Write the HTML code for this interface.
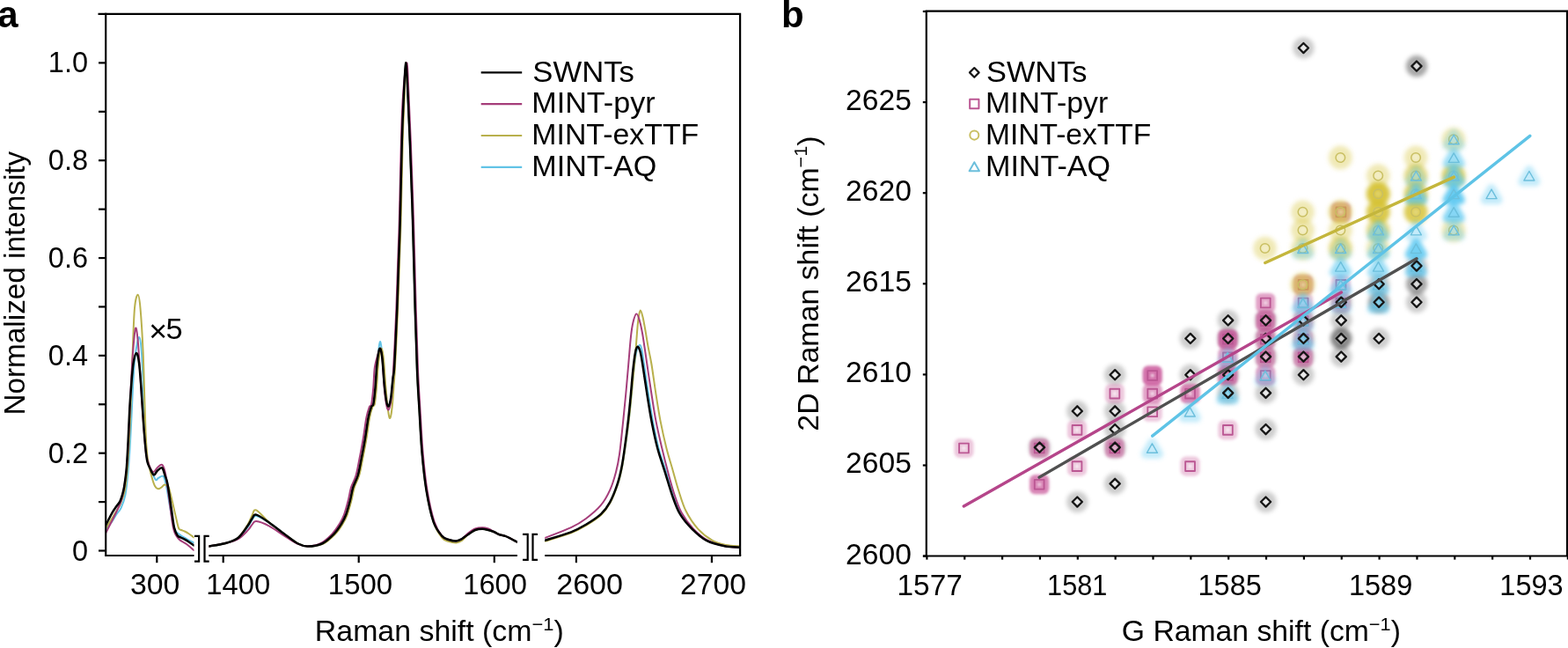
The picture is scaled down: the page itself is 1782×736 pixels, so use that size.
<!DOCTYPE html><html><head><meta charset="utf-8"><title>Raman figure</title>
<style>html,body{margin:0;padding:0;background:#fff;overflow:hidden;}svg{display:block;}</style></head><body>
<svg width="1782" height="736" viewBox="0 0 1782 736" font-family="'Liberation Sans', sans-serif">
<rect x="0" y="0" width="1782" height="736" fill="#fff"/>
<defs>
<clipPath id="c1"><rect x="121" y="17" width="99.5" height="614"/></clipPath>
<clipPath id="c2"><rect x="237.4" y="17" width="350.5" height="614"/></clipPath>
<clipPath id="c3"><rect x="619.2" y="17" width="221" height="614"/></clipPath>
<filter id="hS" x="-30%" y="-30%" width="160%" height="160%"><feGaussianBlur stdDeviation="2.6"/></filter><filter id="hP" x="-30%" y="-30%" width="160%" height="160%"><feGaussianBlur stdDeviation="1.7"/></filter><filter id="hE" x="-30%" y="-30%" width="160%" height="160%"><feGaussianBlur stdDeviation="2.5"/></filter><filter id="hA" x="-30%" y="-30%" width="160%" height="160%"><feGaussianBlur stdDeviation="2.4"/></filter>
<filter id="sb" x="-10%" y="-10%" width="120%" height="120%"><feGaussianBlur stdDeviation="0.35"/></filter>
</defs>
<text x="-2.80" y="31.00" font-size="42.00" font-weight="bold">a</text>
<text x="888.00" y="30.50" font-size="42.00" font-weight="bold">b</text>
<g clip-path="url(#c1)" fill="none" stroke-linejoin="round" stroke-linecap="round">
<path d="M120.20,601.00 C121.47,599.43 125.75,594.43 127.80,591.60 C129.85,588.77 130.87,586.45 132.50,584.00 C134.13,581.55 135.95,580.53 137.60,576.90 C139.25,573.27 141.18,567.90 142.40,562.20 C143.62,556.50 144.08,550.85 144.90,542.70 C145.72,534.55 146.57,524.30 147.30,513.30 C148.03,502.30 148.68,488.92 149.30,476.70 C149.92,464.48 150.38,451.12 151.00,440.00 C151.62,428.88 152.25,418.00 153.00,410.00 C153.75,402.00 154.62,396.50 155.50,392.00 C156.38,387.50 157.47,382.50 158.30,383.00 C159.13,383.50 159.80,387.17 160.50,395.00 C161.20,402.83 161.87,415.83 162.50,430.00 C163.13,444.17 163.72,466.67 164.30,480.00 C164.88,493.33 165.22,502.00 166.00,510.00 C166.78,518.00 167.83,523.50 169.00,528.00 C170.17,532.50 171.67,534.17 173.00,537.00 C174.33,539.83 175.83,544.00 177.00,545.00 C178.17,546.00 178.57,543.67 180.00,543.00 C181.43,542.33 184.10,539.50 185.60,541.00 C187.10,542.50 187.77,546.33 189.00,552.00 C190.23,557.67 191.50,567.00 193.00,575.00 C194.50,583.00 196.17,594.67 198.00,600.00 C199.83,605.33 201.67,605.00 204.00,607.00 C206.33,609.00 209.28,610.43 212.00,612.00 C214.72,613.57 218.92,615.67 220.30,616.40" stroke="#62c3e6" stroke-width="2.0"/>
<path d="M120.20,600.00 C121.47,598.00 125.75,591.33 127.80,588.00 C129.85,584.67 130.97,582.67 132.50,580.00 C134.03,577.33 135.45,575.83 137.00,572.00 C138.55,568.17 140.58,562.83 141.80,557.00 C143.02,551.17 143.53,545.33 144.30,537.00 C145.07,528.67 145.75,518.17 146.40,507.00 C147.05,495.83 147.48,487.83 148.20,470.00 C148.92,452.17 149.90,420.00 150.70,400.00 C151.50,380.00 152.00,360.87 153.00,350.00 C154.00,339.13 155.62,334.80 156.70,334.80 C157.78,334.80 158.52,339.13 159.50,350.00 C160.48,360.87 161.77,381.67 162.60,400.00 C163.43,418.33 163.93,443.33 164.50,460.00 C165.07,476.67 165.42,489.67 166.00,500.00 C166.58,510.33 167.00,515.33 168.00,522.00 C169.00,528.67 170.67,535.00 172.00,540.00 C173.33,545.00 174.70,549.45 176.00,552.00 C177.30,554.55 178.55,555.05 179.80,555.30 C181.05,555.55 182.35,554.28 183.50,553.50 C184.65,552.72 185.70,550.93 186.70,550.60 C187.70,550.27 188.62,550.87 189.50,551.50 C190.38,552.13 190.85,550.93 192.00,554.40 C193.15,557.87 194.92,566.08 196.40,572.30 C197.88,578.52 199.77,587.05 200.90,591.70 C202.03,596.35 202.35,598.48 203.20,600.20 C204.05,601.92 204.88,601.45 206.00,602.00 C207.12,602.55 208.40,602.75 209.90,603.50 C211.40,604.25 213.25,605.35 215.00,606.50 C216.75,607.65 219.50,609.75 220.40,610.40" stroke="#b8b04c" stroke-width="2.0"/>
<path d="M120.20,605.40 C121.17,603.50 124.03,597.90 126.00,594.00 C127.97,590.10 130.00,586.33 132.00,582.00 C134.00,577.67 136.33,573.67 138.00,568.00 C139.67,562.33 140.92,555.17 142.00,548.00 C143.08,540.83 143.75,534.67 144.50,525.00 C145.25,515.33 145.83,503.33 146.50,490.00 C147.17,476.67 147.80,459.17 148.50,445.00 C149.20,430.83 149.80,416.95 150.70,405.00 C151.60,393.05 152.93,376.63 153.90,373.30 C154.87,369.97 155.65,377.22 156.50,385.00 C157.35,392.78 158.17,407.50 159.00,420.00 C159.83,432.50 160.72,448.33 161.50,460.00 C162.28,471.67 162.95,480.83 163.70,490.00 C164.45,499.17 165.12,508.83 166.00,515.00 C166.88,521.17 167.67,523.50 169.00,527.00 C170.33,530.50 172.33,535.33 174.00,536.00 C175.67,536.67 177.30,532.35 179.00,531.00 C180.70,529.65 182.70,526.73 184.20,527.90 C185.70,529.07 186.70,531.82 188.00,538.00 C189.30,544.18 190.50,554.67 192.00,565.00 C193.50,575.33 195.17,592.17 197.00,600.00 C198.83,607.83 200.50,609.00 203.00,612.00 C205.50,615.00 209.12,615.83 212.00,618.00 C214.88,620.17 218.92,623.83 220.30,625.00" stroke="#a53d7a" stroke-width="2.0"/>
<path d="M120.20,596.50 C120.83,595.25 122.73,591.45 124.00,589.00 C125.27,586.55 126.47,584.05 127.80,581.80 C129.13,579.55 130.58,577.53 132.00,575.50 C133.42,573.47 135.13,571.85 136.30,569.60 C137.47,567.35 138.18,564.85 139.00,562.00 C139.82,559.15 140.42,557.35 141.20,552.50 C141.98,547.65 142.97,541.47 143.70,532.90 C144.43,524.33 145.00,512.52 145.60,501.10 C146.20,489.68 146.73,474.58 147.30,464.40 C147.87,454.22 148.30,448.57 149.00,440.00 C149.70,431.43 150.50,419.52 151.50,413.00 C152.50,406.48 153.92,401.07 155.00,400.90 C156.08,400.73 157.10,405.48 158.00,412.00 C158.90,418.52 159.57,428.67 160.40,440.00 C161.23,451.33 162.15,468.33 163.00,480.00 C163.85,491.67 164.75,502.53 165.50,510.00 C166.25,517.47 166.58,520.97 167.50,524.80 C168.42,528.63 169.77,530.57 171.00,533.00 C172.23,535.43 173.57,539.15 174.90,539.40 C176.23,539.65 177.45,535.83 179.00,534.50 C180.55,533.17 182.78,530.48 184.20,531.40 C185.62,532.32 186.45,536.92 187.50,540.00 C188.55,543.08 189.25,543.27 190.50,549.90 C191.75,556.53 193.75,571.58 195.00,579.80 C196.25,588.02 196.88,594.47 198.00,599.20 C199.12,603.93 200.45,606.32 201.70,608.20 C202.95,610.08 204.13,609.75 205.50,610.50 C206.87,611.25 208.32,611.82 209.90,612.70 C211.48,613.58 213.25,614.68 215.00,615.80 C216.75,616.92 219.50,618.80 220.40,619.40" stroke="#000000" stroke-width="2.5"/>
</g>
<g clip-path="url(#c2)" fill="none" stroke-linejoin="round" stroke-linecap="round">
<path d="M237.40,620.50 C240.70,619.88 251.63,618.43 257.20,616.80 C262.77,615.17 266.73,613.73 270.80,610.70 C274.87,607.67 278.98,601.97 281.60,598.60 C284.22,595.23 284.90,592.58 286.50,590.50 C288.10,588.42 287.93,585.57 291.20,586.10 C294.47,586.63 300.45,590.05 306.10,593.70 C311.75,597.35 319.67,604.03 325.10,608.00 C330.53,611.97 334.62,615.42 338.70,617.50 C342.78,619.58 344.90,620.50 349.60,620.50 C354.30,620.50 361.75,619.82 366.90,617.50 C372.05,615.18 376.82,610.35 380.50,606.60 C384.18,602.85 386.73,598.63 389.00,595.00 C391.27,591.37 392.43,589.30 394.10,584.80 C395.77,580.30 397.65,573.20 399.00,568.00 C400.35,562.80 400.75,558.27 402.20,553.60 C403.65,548.93 406.15,545.27 407.70,540.00 C409.25,534.73 410.15,528.83 411.50,522.00 C412.85,515.17 414.45,506.95 415.80,499.00 C417.15,491.05 418.40,480.47 419.60,474.30 C420.80,468.13 422.05,464.55 423.00,462.00 C423.95,459.45 424.55,462.67 425.30,459.00 C426.05,455.33 426.87,447.00 427.50,440.00 C428.13,433.00 428.63,424.06 429.10,417.00 C429.57,409.94 429.77,402.40 430.30,397.61 C430.83,392.83 431.60,387.04 432.30,388.28 C433.00,389.52 433.77,397.07 434.50,405.06 C435.23,413.04 435.95,427.88 436.70,436.20 C437.45,444.52 438.27,450.78 439.00,455.00 C439.73,459.22 440.43,461.00 441.10,461.50 C441.77,462.00 442.43,459.92 443.00,458.00 C443.57,456.08 443.92,454.67 444.50,450.00 C445.08,445.33 445.93,435.00 446.50,430.00 C447.07,425.00 447.40,426.67 447.90,420.00 C448.40,413.33 448.93,401.67 449.50,390.00 C450.07,378.33 450.72,365.00 451.30,350.00 C451.88,335.00 452.43,316.67 453.00,300.00 C453.57,283.33 454.07,273.33 454.70,250.00 C455.33,226.67 456.12,183.33 456.80,160.00 C457.48,136.67 458.07,124.77 458.80,110.00 C459.53,95.23 460.43,72.23 461.20,71.40 C461.97,70.57 462.63,90.23 463.40,105.00 C464.17,119.77 464.87,135.83 465.80,160.00 C466.73,184.17 468.02,218.33 469.00,250.00 C469.98,281.67 470.87,321.67 471.70,350.00 C472.53,378.33 473.20,400.83 474.00,420.00 C474.80,439.17 475.57,449.30 476.50,465.00 C477.43,480.70 478.27,498.92 479.60,514.20 C480.93,529.48 482.33,543.63 484.50,556.70 C486.67,569.77 489.62,583.90 492.60,592.60 C495.58,601.30 499.50,605.50 502.40,608.90 C505.30,612.30 507.28,612.08 510.00,613.00 C512.72,613.92 516.20,614.57 518.70,614.40 C521.20,614.23 522.82,613.20 525.00,612.00 C527.18,610.80 529.30,608.87 531.80,607.20 C534.30,605.53 537.28,603.08 540.00,602.00 C542.72,600.92 545.60,600.70 548.10,600.70 C550.60,600.70 552.82,601.45 555.00,602.00 C557.18,602.55 559.20,603.17 561.20,604.00 C563.20,604.83 564.83,606.18 567.00,607.00 C569.17,607.82 572.03,608.15 574.20,608.90 C576.37,609.65 577.82,610.42 580.00,611.50 C582.18,612.58 586.08,614.75 587.30,615.40" stroke="#62c3e6" stroke-width="2.0"/>
<path d="M237.40,620.50 C240.70,619.88 251.63,618.43 257.20,616.80 C262.77,615.17 266.73,614.20 270.80,610.70 C274.87,607.20 278.98,600.04 281.60,595.79 C284.22,591.54 284.90,587.94 286.50,585.21 C288.10,582.48 287.93,578.01 291.20,579.40 C294.47,580.79 300.45,588.79 306.10,593.55 C311.75,598.32 319.67,604.01 325.10,608.00 C330.53,611.99 334.62,615.42 338.70,617.50 C342.78,619.58 344.82,620.50 349.60,620.50 C354.38,620.50 362.17,619.82 367.40,617.50 C372.63,615.18 377.32,610.35 381.00,606.60 C384.68,602.85 387.23,598.63 389.50,595.00 C391.77,591.37 392.93,589.30 394.60,584.80 C396.27,580.30 398.15,573.20 399.50,568.00 C400.85,562.80 401.25,558.27 402.70,553.60 C404.15,548.93 406.65,545.27 408.20,540.00 C409.75,534.73 410.65,528.83 412.00,522.00 C413.35,515.17 414.95,506.95 416.30,499.00 C417.65,491.05 418.90,480.47 420.10,474.30 C421.30,468.13 422.55,464.55 423.50,462.00 C424.45,459.45 425.05,462.67 425.80,459.00 C426.55,455.33 427.37,447.00 428.00,440.00 C428.63,433.00 428.97,423.67 429.60,417.00 C430.23,410.33 431.10,403.47 431.80,400.00 C432.50,396.53 433.10,394.87 433.80,396.20 C434.50,397.53 435.27,401.10 436.00,408.00 C436.73,414.90 437.45,428.66 438.20,437.61 C438.95,446.57 439.77,455.55 440.50,461.72 C441.23,467.88 441.93,473.07 442.60,474.60 C443.27,476.14 443.93,473.60 444.50,470.90 C445.07,468.20 445.42,464.78 446.00,458.41 C446.58,452.03 447.53,439.08 448.00,432.68 C448.47,426.28 448.40,427.11 448.80,420.00 C449.20,412.89 449.83,401.67 450.40,390.00 C450.97,378.33 451.62,365.00 452.20,350.00 C452.78,335.00 453.33,316.67 453.90,300.00 C454.47,283.33 454.97,273.33 455.60,250.00 C456.23,226.67 457.02,183.33 457.70,160.00 C458.38,136.67 459.12,124.77 459.70,110.00 C460.28,95.23 460.58,72.23 461.20,71.40 C461.82,70.57 462.63,90.23 463.40,105.00 C464.17,119.77 464.87,135.83 465.80,160.00 C466.73,184.17 468.02,218.33 469.00,250.00 C469.98,281.67 470.87,321.67 471.70,350.00 C472.53,378.33 473.20,400.83 474.00,420.00 C474.80,439.17 475.57,449.30 476.50,465.00 C477.43,480.70 478.27,498.92 479.60,514.20 C480.93,529.48 482.33,543.63 484.50,556.70 C486.67,569.77 489.62,583.57 492.60,592.60 C495.58,601.63 499.50,607.17 502.40,610.90 C505.30,614.63 507.28,614.08 510.00,615.00 C512.72,615.92 516.20,616.57 518.70,616.40 C521.20,616.23 522.82,615.53 525.00,614.00 C527.18,612.47 529.30,609.20 531.80,607.20 C534.30,605.20 537.28,603.08 540.00,602.00 C542.72,600.92 545.60,600.70 548.10,600.70 C550.60,600.70 552.82,601.45 555.00,602.00 C557.18,602.55 559.20,603.17 561.20,604.00 C563.20,604.83 564.83,606.18 567.00,607.00 C569.17,607.82 572.03,608.15 574.20,608.90 C576.37,609.65 577.82,610.42 580.00,611.50 C582.18,612.58 586.08,614.75 587.30,615.40" stroke="#b8b04c" stroke-width="2.0"/>
<path d="M237.40,620.50 C240.70,619.88 251.63,618.18 257.20,616.80 C262.77,615.42 266.73,614.62 270.80,612.22 C274.87,609.83 278.98,605.13 281.60,602.41 C284.22,599.70 284.90,597.65 286.50,595.93 C288.10,594.21 287.93,591.82 291.20,592.10 C294.47,592.38 300.45,594.66 306.10,597.63 C311.75,600.59 319.67,606.48 325.10,609.86 C330.53,613.24 334.62,616.15 338.70,617.92 C342.78,619.70 345.43,620.57 349.60,620.50 C353.77,620.43 359.08,619.82 363.70,617.50 C368.32,615.18 373.62,610.35 377.30,606.60 C380.98,602.85 383.53,598.63 385.80,595.00 C388.07,591.37 389.23,589.30 390.90,584.80 C392.57,580.30 394.45,573.20 395.80,568.00 C397.15,562.80 397.55,558.27 399.00,553.60 C400.45,548.93 402.95,545.27 404.50,540.00 C406.05,534.73 406.95,528.83 408.30,522.00 C409.65,515.17 411.25,506.95 412.60,499.00 C413.95,491.05 415.20,480.47 416.40,474.30 C417.60,468.13 418.85,464.55 419.80,462.00 C420.75,459.45 421.35,462.67 422.10,459.00 C422.85,455.33 423.67,447.00 424.30,440.00 C424.93,433.00 424.90,423.67 425.90,417.00 C426.90,410.33 429.23,403.47 430.30,400.00 C431.37,396.53 431.60,394.87 432.30,396.20 C433.00,397.53 433.77,400.67 434.50,408.00 C435.23,415.33 435.95,431.70 436.70,440.20 C437.45,448.70 438.27,454.78 439.00,459.00 C439.73,463.22 440.43,465.00 441.10,465.50 C441.77,466.00 442.43,463.92 443.00,462.00 C443.57,460.08 443.92,459.33 444.50,454.00 C445.08,448.67 446.08,435.67 446.50,430.00 C446.92,424.33 446.65,426.67 447.00,420.00 C447.35,413.33 448.03,401.67 448.60,390.00 C449.17,378.33 449.82,365.00 450.40,350.00 C450.98,335.00 451.53,316.67 452.10,300.00 C452.67,283.33 453.17,273.33 453.80,250.00 C454.43,226.67 455.22,183.33 455.90,160.00 C456.58,136.67 456.85,124.77 457.90,110.00 C458.95,95.23 461.12,72.23 462.20,71.40 C463.28,70.57 463.63,90.23 464.40,105.00 C465.17,119.77 465.87,135.83 466.80,160.00 C467.73,184.17 469.02,218.33 470.00,250.00 C470.98,281.67 471.87,321.67 472.70,350.00 C473.53,378.33 474.20,400.83 475.00,420.00 C475.80,439.17 476.57,449.30 477.50,465.00 C478.43,480.70 479.27,498.92 480.60,514.20 C481.93,529.48 483.33,543.63 485.50,556.70 C487.67,569.77 490.78,583.90 493.60,592.60 C496.42,601.30 499.67,605.50 502.40,608.90 C505.13,612.30 507.28,612.08 510.00,613.00 C512.72,613.92 516.20,614.57 518.70,614.40 C521.20,614.23 522.82,613.45 525.00,612.00 C527.18,610.55 529.30,607.62 531.80,605.70 C534.30,603.78 537.28,601.58 540.00,600.50 C542.72,599.42 545.60,599.20 548.10,599.20 C550.60,599.20 552.82,599.70 555.00,600.50 C557.18,601.30 559.20,602.92 561.20,604.00 C563.20,605.08 564.83,606.18 567.00,607.00 C569.17,607.82 572.03,608.15 574.20,608.90 C576.37,609.65 577.82,610.42 580.00,611.50 C582.18,612.58 586.08,614.75 587.30,615.40" stroke="#a53d7a" stroke-width="2.0"/>
<path d="M237.40,620.50 C240.70,619.88 251.63,618.43 257.20,616.80 C262.77,615.17 266.73,613.98 270.80,610.70 C274.87,607.42 278.98,600.72 281.60,597.10 C284.22,593.48 284.90,591.08 286.50,589.00 C288.10,586.92 287.93,583.82 291.20,584.60 C294.47,585.38 300.45,589.80 306.10,593.70 C311.75,597.60 319.67,604.03 325.10,608.00 C330.53,611.97 334.62,615.42 338.70,617.50 C342.78,619.58 345.07,620.50 349.60,620.50 C354.13,620.50 360.92,619.82 365.90,617.50 C370.88,615.18 375.82,610.35 379.50,606.60 C383.18,602.85 385.73,598.63 388.00,595.00 C390.27,591.37 391.43,589.30 393.10,584.80 C394.77,580.30 396.65,573.20 398.00,568.00 C399.35,562.80 399.75,558.27 401.20,553.60 C402.65,548.93 405.15,545.27 406.70,540.00 C408.25,534.73 409.15,528.83 410.50,522.00 C411.85,515.17 413.45,506.95 414.80,499.00 C416.15,491.05 417.40,480.47 418.60,474.30 C419.80,468.13 421.05,464.55 422.00,462.00 C422.95,459.45 423.55,462.67 424.30,459.00 C425.05,455.33 425.87,447.00 426.50,440.00 C427.13,433.00 427.47,423.67 428.10,417.00 C428.73,410.33 429.60,403.47 430.30,400.00 C431.00,396.53 431.60,394.87 432.30,396.20 C433.00,397.53 433.77,401.33 434.50,408.00 C435.23,414.67 435.95,428.37 436.70,436.20 C437.45,444.03 438.27,450.78 439.00,455.00 C439.73,459.22 440.43,461.00 441.10,461.50 C441.77,462.00 442.43,459.92 443.00,458.00 C443.57,456.08 443.92,454.67 444.50,450.00 C445.08,445.33 445.93,435.00 446.50,430.00 C447.07,425.00 447.40,426.67 447.90,420.00 C448.40,413.33 448.93,401.67 449.50,390.00 C450.07,378.33 450.72,365.00 451.30,350.00 C451.88,335.00 452.43,316.67 453.00,300.00 C453.57,283.33 454.07,273.33 454.70,250.00 C455.33,226.67 456.12,183.33 456.80,160.00 C457.48,136.67 458.07,124.77 458.80,110.00 C459.53,95.23 460.43,72.23 461.20,71.40 C461.97,70.57 462.63,90.23 463.40,105.00 C464.17,119.77 464.87,135.83 465.80,160.00 C466.73,184.17 468.02,218.33 469.00,250.00 C469.98,281.67 470.87,321.67 471.70,350.00 C472.53,378.33 473.20,400.83 474.00,420.00 C474.80,439.17 475.57,449.30 476.50,465.00 C477.43,480.70 478.27,498.92 479.60,514.20 C480.93,529.48 482.33,543.63 484.50,556.70 C486.67,569.77 489.62,583.90 492.60,592.60 C495.58,601.30 499.50,605.50 502.40,608.90 C505.30,612.30 507.28,612.08 510.00,613.00 C512.72,613.92 516.20,614.57 518.70,614.40 C521.20,614.23 522.82,613.20 525.00,612.00 C527.18,610.80 529.30,608.87 531.80,607.20 C534.30,605.53 537.28,603.08 540.00,602.00 C542.72,600.92 545.60,600.70 548.10,600.70 C550.60,600.70 552.82,601.45 555.00,602.00 C557.18,602.55 559.20,603.17 561.20,604.00 C563.20,604.83 564.83,606.18 567.00,607.00 C569.17,607.82 572.03,608.15 574.20,608.90 C576.37,609.65 577.82,610.42 580.00,611.50 C582.18,612.58 586.08,614.75 587.30,615.40" stroke="#000000" stroke-width="2.5"/>
</g>
<g clip-path="url(#c3)" fill="none" stroke-linejoin="round" stroke-linecap="round">
<path d="M619.20,614.00 C624.17,612.43 641.20,607.57 649.00,604.60 C656.80,601.63 660.33,599.58 666.00,596.20 C671.67,592.82 678.47,588.53 683.00,584.30 C687.53,580.07 690.05,576.45 693.20,570.80 C696.35,565.15 699.58,557.20 701.90,550.40 C704.22,543.60 705.53,537.90 707.10,530.00 C708.67,522.10 710.02,512.00 711.30,503.00 C712.58,494.00 713.75,485.00 714.80,476.00 C715.85,467.00 716.70,458.03 717.60,449.00 C718.50,439.97 719.30,429.80 720.20,421.80 C721.10,413.80 721.88,405.98 723.00,401.00 C724.12,396.02 725.82,392.40 726.90,391.90 C727.98,391.40 728.65,394.32 729.50,398.00 C730.35,401.68 730.75,405.68 732.00,414.00 C733.25,422.32 735.33,437.17 737.00,447.90 C738.67,458.63 740.08,468.22 742.00,478.40 C743.92,488.58 746.00,499.38 748.50,509.00 C751.00,518.62 754.22,527.05 757.00,536.10 C759.78,545.15 762.45,555.37 765.20,563.30 C767.95,571.23 769.87,577.48 773.50,583.70 C777.13,589.92 781.92,595.52 787.00,600.60 C792.08,605.68 797.83,610.92 804.00,614.20 C810.17,617.48 817.83,619.05 824.00,620.30 C830.17,621.55 838.17,621.47 841.00,621.70" stroke="#62c3e6" stroke-width="2.0"/>
<path d="M619.20,614.80 C624.17,613.22 641.20,608.30 649.00,605.30 C656.80,602.30 660.33,600.18 666.00,596.80 C671.67,593.42 678.47,589.22 683.00,585.00 C687.53,580.78 690.07,577.17 693.20,571.50 C696.33,565.83 699.50,557.83 701.80,551.00 C704.10,544.17 705.43,538.50 707.00,530.50 C708.57,522.50 709.90,512.08 711.20,503.00 C712.50,493.92 713.73,485.00 714.80,476.00 C715.87,467.00 716.70,458.00 717.60,449.00 C718.50,440.00 719.42,430.17 720.20,422.00 C720.98,413.83 721.63,407.83 722.30,400.00 C722.97,392.17 723.62,381.67 724.20,375.00 C724.78,368.33 725.20,363.73 725.80,360.00 C726.40,356.27 727.02,352.60 727.80,352.60 C728.58,352.60 729.60,356.43 730.50,360.00 C731.40,363.57 732.18,368.33 733.20,374.00 C734.22,379.67 735.38,387.33 736.60,394.00 C737.82,400.67 739.02,405.00 740.50,414.00 C741.98,423.00 743.82,437.27 745.50,448.00 C747.18,458.73 748.62,468.23 750.60,478.40 C752.58,488.57 755.13,499.95 757.40,509.00 C759.67,518.05 761.93,524.78 764.20,532.70 C766.47,540.62 768.45,548.57 771.00,556.50 C773.55,564.43 775.82,572.95 779.50,580.30 C783.18,587.65 788.02,594.95 793.10,600.60 C798.18,606.25 804.68,611.13 810.00,614.20 C815.32,617.27 819.83,617.98 825.00,619.00 C830.17,620.02 838.33,620.08 841.00,620.30" stroke="#b8b04c" stroke-width="2.0"/>
<path d="M619.20,611.00 C624.17,609.03 641.20,602.87 649.00,599.20 C656.80,595.53 660.33,593.25 666.00,589.00 C671.67,584.75 678.47,579.08 683.00,573.70 C687.53,568.32 690.37,562.93 693.20,556.70 C696.03,550.47 698.20,543.08 700.00,536.30 C701.80,529.52 702.70,525.05 704.00,516.00 C705.30,506.95 706.60,493.33 707.80,482.00 C709.00,470.67 710.13,459.33 711.20,448.00 C712.27,436.67 713.23,425.00 714.20,414.00 C715.17,403.00 716.12,390.00 717.00,382.00 C717.88,374.00 718.45,370.27 719.50,366.00 C720.55,361.73 722.08,356.73 723.30,356.40 C724.52,356.07 725.63,360.07 726.80,364.00 C727.97,367.93 728.87,371.67 730.30,380.00 C731.73,388.33 733.70,402.67 735.40,414.00 C737.10,425.33 738.82,437.27 740.50,448.00 C742.18,458.73 743.53,468.23 745.50,478.40 C747.47,488.57 750.03,499.38 752.30,509.00 C754.57,518.62 756.83,527.60 759.10,536.10 C761.37,544.60 763.35,552.35 765.90,560.00 C768.45,567.65 770.72,575.23 774.40,582.00 C778.08,588.77 782.90,595.23 788.00,600.60 C793.10,605.97 799.07,610.92 805.00,614.20 C810.93,617.48 817.60,619.00 823.60,620.30 C829.60,621.60 838.10,621.72 841.00,622.00" stroke="#a53d7a" stroke-width="2.0"/>
<path d="M619.20,613.80 C624.17,612.22 641.20,607.30 649.00,604.30 C656.80,601.30 660.33,599.20 666.00,595.80 C671.67,592.40 678.47,588.15 683.00,583.90 C687.53,579.65 690.10,575.97 693.20,570.30 C696.30,564.63 699.35,556.70 701.60,549.90 C703.85,543.10 705.17,537.43 706.70,529.50 C708.23,521.57 709.55,511.37 710.80,502.30 C712.05,493.23 713.18,484.15 714.20,475.10 C715.22,466.05 716.05,457.05 716.90,448.00 C717.75,438.95 718.45,428.73 719.30,420.80 C720.15,412.87 721.12,404.90 722.00,400.40 C722.88,395.90 723.68,394.03 724.60,393.80 C725.52,393.57 726.55,395.63 727.50,399.00 C728.45,402.37 728.98,405.85 730.30,414.00 C731.62,422.15 733.70,437.17 735.40,447.90 C737.10,458.63 738.53,468.22 740.50,478.40 C742.47,488.58 744.67,499.38 747.20,509.00 C749.73,518.62 752.87,527.05 755.70,536.10 C758.53,545.15 761.37,555.37 764.20,563.30 C767.03,571.23 769.02,577.48 772.70,583.70 C776.38,589.92 781.20,595.52 786.30,600.60 C791.40,605.68 797.08,610.92 803.30,614.20 C809.52,617.48 817.32,619.05 823.60,620.30 C829.88,621.55 838.10,621.47 841.00,621.70" stroke="#000000" stroke-width="2.5"/>
</g>
<g stroke="#000" stroke-width="2.2" fill="none" stroke-linecap="butt">
<path d="M111.5,15.8 H841.1 V631"/>
<path d="M120.2,14.7 V631"/>
<path d="M119.1,631 H220.5"/>
<path d="M237.3,631 H587.9"/>
<path d="M619.2,631 H842.2"/>
<path d="M112,625.50 H120"/>
<path d="M112,570.09 H120"/>
<path d="M112,514.68 H120"/>
<path d="M112,459.27 H120"/>
<path d="M112,403.86 H120"/>
<path d="M112,348.45 H120"/>
<path d="M112,293.04 H120"/>
<path d="M112,237.63 H120"/>
<path d="M112,182.22 H120"/>
<path d="M112,126.81 H120"/>
<path d="M112,71.40 H120"/>
<path d="M178.30,631 V639.2"/>
<path d="M253.70,631 V639.2"/>
<path d="M407.70,631 V639.2"/>
<path d="M561.80,631 V639.2"/>
<path d="M654.90,631 V639.2"/>
<path d="M808.90,631 V639.2"/>
<path d="M221,608.9 H226.1 V637.6 H221"/>
<path d="M237.7,608.9 H232.5 V637.6 H237.7"/>
<path d="M594,606.9 H599.7 V635.8 H594"/>
<path d="M611,606.9 H605.5 V635.8 H611"/>
</g>
<text x="100.00" y="636.50" font-size="32.50" text-anchor="end">0</text>
<text x="100.00" y="525.68" font-size="32.50" text-anchor="end">0.2</text>
<text x="100.00" y="414.86" font-size="32.50" text-anchor="end">0.4</text>
<text x="100.00" y="304.04" font-size="32.50" text-anchor="end">0.6</text>
<text x="100.00" y="193.22" font-size="32.50" text-anchor="end">0.8</text>
<text x="100.00" y="82.40" font-size="32.50" text-anchor="end">1.0</text>
<text transform="translate(-7.122,0) scale(1.03922,1)" x="176.30" y="675.50" font-size="32.50" text-anchor="middle">300</text>
<text transform="translate(-2.761,0) scale(1.00870,1)" x="271.10" y="675.50" font-size="32.50" text-anchor="middle">1400</text>
<text transform="translate(-6.449,0) scale(1.01449,1)" x="410.00" y="675.50" font-size="32.50" text-anchor="middle">1500</text>
<text transform="translate(-4.533,0) scale(1.00725,1)" x="563.05" y="675.50" font-size="32.50" text-anchor="middle">1600</text>
<text transform="translate(-33.239,0) scale(1.04928,1)" x="670.30" y="675.50" font-size="32.50" text-anchor="middle">2600</text>
<text transform="translate(-30.541,0) scale(1.03768,1)" x="810.50" y="675.50" font-size="32.50" text-anchor="middle">2700</text>
<text transform="translate(-22.070,0) scale(1.04270,1)" x="500.00" y="728.50" font-size="32.50" text-anchor="middle">Raman shift (cm<tspan font-size="21" dy="-12.5">−1</tspan><tspan dy="12.5">)</tspan></text>
<text transform="translate(27.50,321.66) rotate(-90) scale(1.00918,1)" font-size="33.00" text-anchor="middle">Normalized intensity</text>
<text transform="translate(-4.560,0) scale(1.02000,1)" x="170.50" y="387.90" font-size="35.00">×</text>
<text transform="translate(-11.860,0) scale(1.06000,1)" x="189.00" y="385.00" font-size="32.50">5</text>
<path d="M546.7,82.40 H593.2" stroke="#000000" stroke-width="2.2"/>
<text transform="translate(-41.712,0) scale(1.06762,1)" x="606.00" y="92.70" font-size="32.50">SWNTs</text>
<path d="M546.7,118.20 H593.2" stroke="#a53d7a" stroke-width="2.2"/>
<text transform="translate(-32.518,0) scale(1.05077,1)" x="606.00" y="128.50" font-size="32.50">MINT-pyr</text>
<path d="M546.7,154.00 H593.2" stroke="#b8b04c" stroke-width="2.2"/>
<text transform="translate(-27.260,0) scale(1.04213,1)" x="606.00" y="164.30" font-size="32.50">MINT-exTTF</text>
<path d="M546.7,189.80 H593.2" stroke="#62c3e6" stroke-width="2.2"/>
<text transform="translate(-32.282,0) scale(1.05038,1)" x="606.00" y="200.10" font-size="32.50">MINT-AQ</text>
<g filter="url(#hS)" fill="none" stroke-linejoin="round">
<circle cx="1181.45" cy="508.18" r="7.8" stroke="#000000" stroke-width="8.5" stroke-opacity="0.20"/>
<circle cx="1224.30" cy="466.94" r="7.8" stroke="#000000" stroke-width="8.5" stroke-opacity="0.20"/>
<circle cx="1224.30" cy="570.04" r="7.8" stroke="#000000" stroke-width="8.5" stroke-opacity="0.20"/>
<circle cx="1267.15" cy="425.70" r="7.8" stroke="#000000" stroke-width="8.5" stroke-opacity="0.20"/>
<circle cx="1267.15" cy="466.94" r="7.8" stroke="#000000" stroke-width="8.5" stroke-opacity="0.20"/>
<circle cx="1267.15" cy="487.56" r="7.8" stroke="#000000" stroke-width="8.5" stroke-opacity="0.20"/>
<circle cx="1267.15" cy="508.18" r="7.8" stroke="#000000" stroke-width="8.5" stroke-opacity="0.20"/>
<circle cx="1267.15" cy="549.42" r="7.8" stroke="#000000" stroke-width="8.5" stroke-opacity="0.20"/>
<circle cx="1352.85" cy="384.46" r="7.8" stroke="#000000" stroke-width="8.5" stroke-opacity="0.20"/>
<circle cx="1352.85" cy="425.70" r="7.8" stroke="#000000" stroke-width="8.5" stroke-opacity="0.20"/>
<circle cx="1395.70" cy="363.84" r="7.8" stroke="#000000" stroke-width="8.5" stroke-opacity="0.20"/>
<circle cx="1395.70" cy="384.46" r="7.8" stroke="#000000" stroke-width="8.5" stroke-opacity="0.20"/>
<circle cx="1395.70" cy="425.70" r="7.8" stroke="#000000" stroke-width="8.5" stroke-opacity="0.20"/>
<circle cx="1395.70" cy="446.32" r="7.8" stroke="#000000" stroke-width="8.5" stroke-opacity="0.20"/>
<circle cx="1438.55" cy="363.84" r="7.8" stroke="#000000" stroke-width="8.5" stroke-opacity="0.20"/>
<circle cx="1438.55" cy="384.46" r="7.8" stroke="#000000" stroke-width="8.5" stroke-opacity="0.20"/>
<circle cx="1438.55" cy="405.08" r="7.8" stroke="#000000" stroke-width="8.5" stroke-opacity="0.20"/>
<circle cx="1438.55" cy="446.32" r="7.8" stroke="#000000" stroke-width="8.5" stroke-opacity="0.20"/>
<circle cx="1438.55" cy="487.56" r="7.8" stroke="#000000" stroke-width="8.5" stroke-opacity="0.20"/>
<circle cx="1438.55" cy="570.04" r="7.8" stroke="#000000" stroke-width="8.5" stroke-opacity="0.20"/>
<circle cx="1481.40" cy="54.54" r="7.8" stroke="#000000" stroke-width="8.5" stroke-opacity="0.20"/>
<circle cx="1481.40" cy="363.84" r="7.8" stroke="#000000" stroke-width="8.5" stroke-opacity="0.20"/>
<circle cx="1481.40" cy="384.46" r="7.8" stroke="#000000" stroke-width="8.5" stroke-opacity="0.20"/>
<circle cx="1481.40" cy="405.08" r="7.8" stroke="#000000" stroke-width="8.5" stroke-opacity="0.20"/>
<circle cx="1481.40" cy="425.70" r="7.8" stroke="#000000" stroke-width="8.5" stroke-opacity="0.20"/>
<circle cx="1524.25" cy="343.22" r="7.8" stroke="#000000" stroke-width="8.5" stroke-opacity="0.20"/>
<circle cx="1524.25" cy="363.84" r="7.8" stroke="#000000" stroke-width="8.5" stroke-opacity="0.20"/>
<circle cx="1524.25" cy="384.46" r="7.8" stroke="#000000" stroke-width="8.5" stroke-opacity="0.20"/>
<circle cx="1524.25" cy="384.46" r="7.8" stroke="#000000" stroke-width="8.5" stroke-opacity="0.20"/>
<circle cx="1524.25" cy="384.46" r="7.8" stroke="#000000" stroke-width="8.5" stroke-opacity="0.20"/>
<circle cx="1524.25" cy="405.08" r="7.8" stroke="#000000" stroke-width="8.5" stroke-opacity="0.20"/>
<circle cx="1567.10" cy="322.60" r="7.8" stroke="#000000" stroke-width="8.5" stroke-opacity="0.20"/>
<circle cx="1567.10" cy="343.22" r="7.8" stroke="#000000" stroke-width="8.5" stroke-opacity="0.20"/>
<circle cx="1567.10" cy="343.22" r="7.8" stroke="#000000" stroke-width="8.5" stroke-opacity="0.20"/>
<circle cx="1567.10" cy="384.46" r="7.8" stroke="#000000" stroke-width="8.5" stroke-opacity="0.20"/>
<circle cx="1609.95" cy="75.16" r="7.8" stroke="#000000" stroke-width="8.5" stroke-opacity="0.20"/>
<circle cx="1609.95" cy="75.16" r="7.8" stroke="#000000" stroke-width="8.5" stroke-opacity="0.20"/>
<circle cx="1609.95" cy="301.98" r="7.8" stroke="#000000" stroke-width="8.5" stroke-opacity="0.20"/>
<circle cx="1609.95" cy="322.60" r="7.8" stroke="#000000" stroke-width="8.5" stroke-opacity="0.20"/>
<circle cx="1609.95" cy="322.60" r="7.8" stroke="#000000" stroke-width="8.5" stroke-opacity="0.20"/>
<circle cx="1609.95" cy="343.22" r="7.8" stroke="#000000" stroke-width="8.5" stroke-opacity="0.20"/>
</g>
<g filter="url(#hP)" fill="none" stroke-linejoin="round">
<rect x="1089.15" y="502.68" width="12.6" height="12.6" rx="1.5" stroke="#c2458f" stroke-width="9.5" stroke-opacity="0.30"/>
<rect x="1174.85" y="502.68" width="12.6" height="12.6" rx="1.5" stroke="#c2458f" stroke-width="9.5" stroke-opacity="0.30"/>
<rect x="1174.85" y="502.68" width="12.6" height="12.6" rx="1.5" stroke="#c2458f" stroke-width="9.5" stroke-opacity="0.30"/>
<rect x="1174.85" y="543.92" width="12.6" height="12.6" rx="1.5" stroke="#c2458f" stroke-width="9.5" stroke-opacity="0.30"/>
<rect x="1174.85" y="543.92" width="12.6" height="12.6" rx="1.5" stroke="#c2458f" stroke-width="9.5" stroke-opacity="0.30"/>
<rect x="1174.85" y="543.92" width="12.6" height="12.6" rx="1.5" stroke="#c2458f" stroke-width="9.5" stroke-opacity="0.30"/>
<rect x="1217.70" y="482.06" width="12.6" height="12.6" rx="1.5" stroke="#c2458f" stroke-width="9.5" stroke-opacity="0.30"/>
<rect x="1217.70" y="523.30" width="12.6" height="12.6" rx="1.5" stroke="#c2458f" stroke-width="9.5" stroke-opacity="0.30"/>
<rect x="1260.55" y="440.82" width="12.6" height="12.6" rx="1.5" stroke="#c2458f" stroke-width="9.5" stroke-opacity="0.30"/>
<rect x="1260.55" y="502.68" width="12.6" height="12.6" rx="1.5" stroke="#c2458f" stroke-width="9.5" stroke-opacity="0.30"/>
<rect x="1260.55" y="502.68" width="12.6" height="12.6" rx="1.5" stroke="#c2458f" stroke-width="9.5" stroke-opacity="0.30"/>
<rect x="1303.40" y="420.20" width="12.6" height="12.6" rx="1.5" stroke="#c2458f" stroke-width="9.5" stroke-opacity="0.30"/>
<rect x="1303.40" y="420.20" width="12.6" height="12.6" rx="1.5" stroke="#c2458f" stroke-width="9.5" stroke-opacity="0.30"/>
<rect x="1303.40" y="420.20" width="12.6" height="12.6" rx="1.5" stroke="#c2458f" stroke-width="9.5" stroke-opacity="0.30"/>
<rect x="1303.40" y="420.20" width="12.6" height="12.6" rx="1.5" stroke="#c2458f" stroke-width="9.5" stroke-opacity="0.30"/>
<rect x="1303.40" y="440.82" width="12.6" height="12.6" rx="1.5" stroke="#c2458f" stroke-width="9.5" stroke-opacity="0.30"/>
<rect x="1303.40" y="440.82" width="12.6" height="12.6" rx="1.5" stroke="#c2458f" stroke-width="9.5" stroke-opacity="0.30"/>
<rect x="1303.40" y="461.44" width="12.6" height="12.6" rx="1.5" stroke="#c2458f" stroke-width="9.5" stroke-opacity="0.30"/>
<rect x="1346.25" y="440.82" width="12.6" height="12.6" rx="1.5" stroke="#c2458f" stroke-width="9.5" stroke-opacity="0.30"/>
<rect x="1346.25" y="440.82" width="12.6" height="12.6" rx="1.5" stroke="#c2458f" stroke-width="9.5" stroke-opacity="0.30"/>
<rect x="1346.25" y="440.82" width="12.6" height="12.6" rx="1.5" stroke="#c2458f" stroke-width="9.5" stroke-opacity="0.30"/>
<rect x="1346.25" y="523.30" width="12.6" height="12.6" rx="1.5" stroke="#c2458f" stroke-width="9.5" stroke-opacity="0.30"/>
<rect x="1389.10" y="378.96" width="12.6" height="12.6" rx="1.5" stroke="#c2458f" stroke-width="9.5" stroke-opacity="0.30"/>
<rect x="1389.10" y="378.96" width="12.6" height="12.6" rx="1.5" stroke="#c2458f" stroke-width="9.5" stroke-opacity="0.30"/>
<rect x="1389.10" y="378.96" width="12.6" height="12.6" rx="1.5" stroke="#c2458f" stroke-width="9.5" stroke-opacity="0.30"/>
<rect x="1389.10" y="378.96" width="12.6" height="12.6" rx="1.5" stroke="#c2458f" stroke-width="9.5" stroke-opacity="0.30"/>
<rect x="1389.10" y="399.58" width="12.6" height="12.6" rx="1.5" stroke="#c2458f" stroke-width="9.5" stroke-opacity="0.30"/>
<rect x="1389.10" y="399.58" width="12.6" height="12.6" rx="1.5" stroke="#c2458f" stroke-width="9.5" stroke-opacity="0.30"/>
<rect x="1389.10" y="420.20" width="12.6" height="12.6" rx="1.5" stroke="#c2458f" stroke-width="9.5" stroke-opacity="0.30"/>
<rect x="1389.10" y="420.20" width="12.6" height="12.6" rx="1.5" stroke="#c2458f" stroke-width="9.5" stroke-opacity="0.30"/>
<rect x="1389.10" y="420.20" width="12.6" height="12.6" rx="1.5" stroke="#c2458f" stroke-width="9.5" stroke-opacity="0.30"/>
<rect x="1389.10" y="482.06" width="12.6" height="12.6" rx="1.5" stroke="#c2458f" stroke-width="9.5" stroke-opacity="0.30"/>
<rect x="1431.95" y="337.72" width="12.6" height="12.6" rx="1.5" stroke="#c2458f" stroke-width="9.5" stroke-opacity="0.30"/>
<rect x="1431.95" y="337.72" width="12.6" height="12.6" rx="1.5" stroke="#c2458f" stroke-width="9.5" stroke-opacity="0.30"/>
<rect x="1431.95" y="358.34" width="12.6" height="12.6" rx="1.5" stroke="#c2458f" stroke-width="9.5" stroke-opacity="0.30"/>
<rect x="1431.95" y="358.34" width="12.6" height="12.6" rx="1.5" stroke="#c2458f" stroke-width="9.5" stroke-opacity="0.30"/>
<rect x="1431.95" y="358.34" width="12.6" height="12.6" rx="1.5" stroke="#c2458f" stroke-width="9.5" stroke-opacity="0.30"/>
<rect x="1431.95" y="378.96" width="12.6" height="12.6" rx="1.5" stroke="#c2458f" stroke-width="9.5" stroke-opacity="0.30"/>
<rect x="1431.95" y="378.96" width="12.6" height="12.6" rx="1.5" stroke="#c2458f" stroke-width="9.5" stroke-opacity="0.30"/>
<rect x="1431.95" y="399.58" width="12.6" height="12.6" rx="1.5" stroke="#c2458f" stroke-width="9.5" stroke-opacity="0.30"/>
<rect x="1431.95" y="399.58" width="12.6" height="12.6" rx="1.5" stroke="#c2458f" stroke-width="9.5" stroke-opacity="0.30"/>
<rect x="1431.95" y="420.20" width="12.6" height="12.6" rx="1.5" stroke="#c2458f" stroke-width="9.5" stroke-opacity="0.30"/>
<rect x="1431.95" y="420.20" width="12.6" height="12.6" rx="1.5" stroke="#c2458f" stroke-width="9.5" stroke-opacity="0.30"/>
<rect x="1474.80" y="317.10" width="12.6" height="12.6" rx="1.5" stroke="#c2458f" stroke-width="9.5" stroke-opacity="0.30"/>
<rect x="1474.80" y="317.10" width="12.6" height="12.6" rx="1.5" stroke="#c2458f" stroke-width="9.5" stroke-opacity="0.30"/>
<rect x="1474.80" y="337.72" width="12.6" height="12.6" rx="1.5" stroke="#c2458f" stroke-width="9.5" stroke-opacity="0.30"/>
<rect x="1474.80" y="358.34" width="12.6" height="12.6" rx="1.5" stroke="#c2458f" stroke-width="9.5" stroke-opacity="0.30"/>
<rect x="1474.80" y="378.96" width="12.6" height="12.6" rx="1.5" stroke="#c2458f" stroke-width="9.5" stroke-opacity="0.30"/>
<rect x="1474.80" y="399.58" width="12.6" height="12.6" rx="1.5" stroke="#c2458f" stroke-width="9.5" stroke-opacity="0.30"/>
<rect x="1474.80" y="399.58" width="12.6" height="12.6" rx="1.5" stroke="#c2458f" stroke-width="9.5" stroke-opacity="0.30"/>
<rect x="1517.65" y="234.62" width="12.6" height="12.6" rx="1.5" stroke="#c2458f" stroke-width="9.5" stroke-opacity="0.30"/>
<rect x="1517.65" y="234.62" width="12.6" height="12.6" rx="1.5" stroke="#c2458f" stroke-width="9.5" stroke-opacity="0.30"/>
<rect x="1517.65" y="317.10" width="12.6" height="12.6" rx="1.5" stroke="#c2458f" stroke-width="9.5" stroke-opacity="0.30"/>
<rect x="1517.65" y="337.72" width="12.6" height="12.6" rx="1.5" stroke="#c2458f" stroke-width="9.5" stroke-opacity="0.30"/>
</g>
<g fill="none" stroke-linejoin="round">
<rect x="1090.05" y="503.58" width="10.80" height="10.80" stroke="#bb5793" stroke-width="1.85"/>
<rect x="1175.75" y="503.58" width="10.80" height="10.80" stroke="#bb5793" stroke-width="1.85"/>
<rect x="1175.75" y="544.82" width="10.80" height="10.80" stroke="#bb5793" stroke-width="1.85"/>
<rect x="1218.60" y="482.96" width="10.80" height="10.80" stroke="#bb5793" stroke-width="1.85"/>
<rect x="1218.60" y="524.20" width="10.80" height="10.80" stroke="#bb5793" stroke-width="1.85"/>
<rect x="1261.45" y="441.72" width="10.80" height="10.80" stroke="#bb5793" stroke-width="1.85"/>
<rect x="1261.45" y="503.58" width="10.80" height="10.80" stroke="#bb5793" stroke-width="1.85"/>
<rect x="1304.30" y="421.10" width="10.80" height="10.80" stroke="#bb5793" stroke-width="1.85"/>
<rect x="1304.30" y="441.72" width="10.80" height="10.80" stroke="#bb5793" stroke-width="1.85"/>
<rect x="1304.30" y="462.34" width="10.80" height="10.80" stroke="#bb5793" stroke-width="1.85"/>
<rect x="1347.15" y="441.72" width="10.80" height="10.80" stroke="#bb5793" stroke-width="1.85"/>
<rect x="1347.15" y="524.20" width="10.80" height="10.80" stroke="#bb5793" stroke-width="1.85"/>
<rect x="1390.00" y="379.86" width="10.80" height="10.80" stroke="#bb5793" stroke-width="1.85"/>
<rect x="1390.00" y="400.48" width="10.80" height="10.80" stroke="#bb5793" stroke-width="1.85"/>
<rect x="1390.00" y="421.10" width="10.80" height="10.80" stroke="#bb5793" stroke-width="1.85"/>
<rect x="1390.00" y="482.96" width="10.80" height="10.80" stroke="#bb5793" stroke-width="1.85"/>
<rect x="1432.85" y="338.62" width="10.80" height="10.80" stroke="#bb5793" stroke-width="1.85"/>
<rect x="1432.85" y="359.24" width="10.80" height="10.80" stroke="#bb5793" stroke-width="1.85"/>
<rect x="1432.85" y="379.86" width="10.80" height="10.80" stroke="#bb5793" stroke-width="1.85"/>
<rect x="1432.85" y="400.48" width="10.80" height="10.80" stroke="#bb5793" stroke-width="1.85"/>
<rect x="1432.85" y="421.10" width="10.80" height="10.80" stroke="#bb5793" stroke-width="1.85"/>
<rect x="1475.70" y="318.00" width="10.80" height="10.80" stroke="#bb5793" stroke-width="1.85"/>
<rect x="1475.70" y="338.62" width="10.80" height="10.80" stroke="#bb5793" stroke-width="1.85"/>
<rect x="1475.70" y="359.24" width="10.80" height="10.80" stroke="#bb5793" stroke-width="1.85"/>
<rect x="1475.70" y="379.86" width="10.80" height="10.80" stroke="#bb5793" stroke-width="1.85"/>
<rect x="1475.70" y="400.48" width="10.80" height="10.80" stroke="#bb5793" stroke-width="1.85"/>
<rect x="1518.55" y="235.52" width="10.80" height="10.80" stroke="#bb5793" stroke-width="1.85"/>
<rect x="1518.55" y="318.00" width="10.80" height="10.80" stroke="#bb5793" stroke-width="1.85"/>
<rect x="1518.55" y="338.62" width="10.80" height="10.80" stroke="#bb5793" stroke-width="1.85"/>
</g>
<g filter="url(#hE)" fill="none" stroke-linejoin="round">
<circle cx="1437.65" cy="282.06" r="7.6" stroke="#d6c335" stroke-width="11.5" stroke-opacity="0.36"/>
<circle cx="1480.50" cy="240.82" r="7.6" stroke="#d6c335" stroke-width="11.5" stroke-opacity="0.36"/>
<circle cx="1480.50" cy="261.44" r="7.6" stroke="#d6c335" stroke-width="11.5" stroke-opacity="0.36"/>
<circle cx="1480.50" cy="282.06" r="7.6" stroke="#d6c335" stroke-width="11.5" stroke-opacity="0.36"/>
<circle cx="1480.50" cy="323.30" r="7.6" stroke="#d6c335" stroke-width="11.5" stroke-opacity="0.36"/>
<circle cx="1480.50" cy="323.30" r="7.6" stroke="#d6c335" stroke-width="11.5" stroke-opacity="0.36"/>
<circle cx="1523.35" cy="178.96" r="7.6" stroke="#d6c335" stroke-width="11.5" stroke-opacity="0.36"/>
<circle cx="1523.35" cy="240.82" r="7.6" stroke="#d6c335" stroke-width="11.5" stroke-opacity="0.36"/>
<circle cx="1523.35" cy="240.82" r="7.6" stroke="#d6c335" stroke-width="11.5" stroke-opacity="0.36"/>
<circle cx="1523.35" cy="261.44" r="7.6" stroke="#d6c335" stroke-width="11.5" stroke-opacity="0.36"/>
<circle cx="1523.35" cy="282.06" r="7.6" stroke="#d6c335" stroke-width="11.5" stroke-opacity="0.36"/>
<circle cx="1523.35" cy="282.06" r="7.6" stroke="#d6c335" stroke-width="11.5" stroke-opacity="0.36"/>
<circle cx="1566.20" cy="199.58" r="7.6" stroke="#d6c335" stroke-width="11.5" stroke-opacity="0.36"/>
<circle cx="1566.20" cy="220.20" r="7.6" stroke="#d6c335" stroke-width="11.5" stroke-opacity="0.36"/>
<circle cx="1566.20" cy="220.20" r="7.6" stroke="#d6c335" stroke-width="11.5" stroke-opacity="0.36"/>
<circle cx="1566.20" cy="220.20" r="7.6" stroke="#d6c335" stroke-width="11.5" stroke-opacity="0.36"/>
<circle cx="1566.20" cy="220.20" r="7.6" stroke="#d6c335" stroke-width="11.5" stroke-opacity="0.36"/>
<circle cx="1566.20" cy="220.20" r="7.6" stroke="#d6c335" stroke-width="11.5" stroke-opacity="0.36"/>
<circle cx="1566.20" cy="220.20" r="7.6" stroke="#d6c335" stroke-width="11.5" stroke-opacity="0.36"/>
<circle cx="1566.20" cy="240.82" r="7.6" stroke="#d6c335" stroke-width="11.5" stroke-opacity="0.36"/>
<circle cx="1566.20" cy="240.82" r="7.6" stroke="#d6c335" stroke-width="11.5" stroke-opacity="0.36"/>
<circle cx="1566.20" cy="240.82" r="7.6" stroke="#d6c335" stroke-width="11.5" stroke-opacity="0.36"/>
<circle cx="1566.20" cy="240.82" r="7.6" stroke="#d6c335" stroke-width="11.5" stroke-opacity="0.36"/>
<circle cx="1566.20" cy="240.82" r="7.6" stroke="#d6c335" stroke-width="11.5" stroke-opacity="0.36"/>
<circle cx="1566.20" cy="261.44" r="7.6" stroke="#d6c335" stroke-width="11.5" stroke-opacity="0.36"/>
<circle cx="1566.20" cy="261.44" r="7.6" stroke="#d6c335" stroke-width="11.5" stroke-opacity="0.36"/>
<circle cx="1566.20" cy="282.06" r="7.6" stroke="#d6c335" stroke-width="11.5" stroke-opacity="0.36"/>
<circle cx="1609.05" cy="178.96" r="7.6" stroke="#d6c335" stroke-width="11.5" stroke-opacity="0.36"/>
<circle cx="1609.05" cy="199.58" r="7.6" stroke="#d6c335" stroke-width="11.5" stroke-opacity="0.36"/>
<circle cx="1609.05" cy="199.58" r="7.6" stroke="#d6c335" stroke-width="11.5" stroke-opacity="0.36"/>
<circle cx="1609.05" cy="220.20" r="7.6" stroke="#d6c335" stroke-width="11.5" stroke-opacity="0.36"/>
<circle cx="1609.05" cy="220.20" r="7.6" stroke="#d6c335" stroke-width="11.5" stroke-opacity="0.36"/>
<circle cx="1609.05" cy="220.20" r="7.6" stroke="#d6c335" stroke-width="11.5" stroke-opacity="0.36"/>
<circle cx="1609.05" cy="240.82" r="7.6" stroke="#d6c335" stroke-width="11.5" stroke-opacity="0.36"/>
<circle cx="1609.05" cy="240.82" r="7.6" stroke="#d6c335" stroke-width="11.5" stroke-opacity="0.36"/>
<circle cx="1609.05" cy="240.82" r="7.6" stroke="#d6c335" stroke-width="11.5" stroke-opacity="0.36"/>
<circle cx="1609.05" cy="240.82" r="7.6" stroke="#d6c335" stroke-width="11.5" stroke-opacity="0.36"/>
<circle cx="1651.90" cy="158.34" r="7.6" stroke="#d6c335" stroke-width="11.5" stroke-opacity="0.36"/>
<circle cx="1651.90" cy="199.58" r="7.6" stroke="#d6c335" stroke-width="11.5" stroke-opacity="0.36"/>
<circle cx="1651.90" cy="199.58" r="7.6" stroke="#d6c335" stroke-width="11.5" stroke-opacity="0.36"/>
<circle cx="1651.90" cy="199.58" r="7.6" stroke="#d6c335" stroke-width="11.5" stroke-opacity="0.36"/>
<circle cx="1651.90" cy="261.44" r="7.6" stroke="#d6c335" stroke-width="11.5" stroke-opacity="0.36"/>
</g>
<g fill="none" stroke-linejoin="round">
<circle cx="1437.65" cy="282.06" r="5.30" stroke="#c9bf62" stroke-width="1.50"/>
<circle cx="1480.50" cy="240.82" r="5.30" stroke="#c9bf62" stroke-width="1.50"/>
<circle cx="1480.50" cy="261.44" r="5.30" stroke="#c9bf62" stroke-width="1.50"/>
<circle cx="1480.50" cy="282.06" r="5.30" stroke="#c9bf62" stroke-width="1.50"/>
<circle cx="1480.50" cy="323.30" r="5.30" stroke="#c9bf62" stroke-width="1.50"/>
<circle cx="1523.35" cy="178.96" r="5.30" stroke="#c9bf62" stroke-width="1.50"/>
<circle cx="1523.35" cy="240.82" r="5.30" stroke="#c9bf62" stroke-width="1.50"/>
<circle cx="1523.35" cy="261.44" r="5.30" stroke="#c9bf62" stroke-width="1.50"/>
<circle cx="1523.35" cy="282.06" r="5.30" stroke="#c9bf62" stroke-width="1.50"/>
<circle cx="1566.20" cy="199.58" r="5.30" stroke="#c9bf62" stroke-width="1.50"/>
<circle cx="1566.20" cy="220.20" r="5.30" stroke="#c9bf62" stroke-width="1.50"/>
<circle cx="1566.20" cy="240.82" r="5.30" stroke="#c9bf62" stroke-width="1.50"/>
<circle cx="1566.20" cy="261.44" r="5.30" stroke="#c9bf62" stroke-width="1.50"/>
<circle cx="1566.20" cy="282.06" r="5.30" stroke="#c9bf62" stroke-width="1.50"/>
<circle cx="1609.05" cy="178.96" r="5.30" stroke="#c9bf62" stroke-width="1.50"/>
<circle cx="1609.05" cy="199.58" r="5.30" stroke="#c9bf62" stroke-width="1.50"/>
<circle cx="1609.05" cy="220.20" r="5.30" stroke="#c9bf62" stroke-width="1.50"/>
<circle cx="1609.05" cy="240.82" r="5.30" stroke="#c9bf62" stroke-width="1.50"/>
<circle cx="1651.90" cy="158.34" r="5.30" stroke="#c9bf62" stroke-width="1.50"/>
<circle cx="1651.90" cy="199.58" r="5.30" stroke="#c9bf62" stroke-width="1.50"/>
<circle cx="1651.90" cy="261.44" r="5.30" stroke="#c9bf62" stroke-width="1.50"/>
</g>
<g filter="url(#hA)" fill="none" stroke-linejoin="round">
<path d="M1309.40,502.66 L1316.90,515.78 L1301.90,515.78 Z" stroke="#55c6f0" stroke-width="10.00" stroke-opacity="0.35"/>
<path d="M1352.25,461.42 L1359.75,474.54 L1344.75,474.54 Z" stroke="#55c6f0" stroke-width="10.00" stroke-opacity="0.35"/>
<path d="M1395.10,399.56 L1402.60,412.68 L1387.60,412.68 Z" stroke="#55c6f0" stroke-width="10.00" stroke-opacity="0.35"/>
<path d="M1395.10,440.80 L1402.60,453.92 L1387.60,453.92 Z" stroke="#55c6f0" stroke-width="10.00" stroke-opacity="0.35"/>
<path d="M1395.10,440.80 L1402.60,453.92 L1387.60,453.92 Z" stroke="#55c6f0" stroke-width="10.00" stroke-opacity="0.35"/>
<path d="M1437.95,420.18 L1445.45,433.30 L1430.45,433.30 Z" stroke="#55c6f0" stroke-width="10.00" stroke-opacity="0.35"/>
<path d="M1480.80,275.84 L1488.30,288.96 L1473.30,288.96 Z" stroke="#55c6f0" stroke-width="10.00" stroke-opacity="0.35"/>
<path d="M1480.80,337.70 L1488.30,350.82 L1473.30,350.82 Z" stroke="#55c6f0" stroke-width="10.00" stroke-opacity="0.35"/>
<path d="M1480.80,337.70 L1488.30,350.82 L1473.30,350.82 Z" stroke="#55c6f0" stroke-width="10.00" stroke-opacity="0.35"/>
<path d="M1480.80,358.32 L1488.30,371.44 L1473.30,371.44 Z" stroke="#55c6f0" stroke-width="10.00" stroke-opacity="0.35"/>
<path d="M1480.80,378.94 L1488.30,392.06 L1473.30,392.06 Z" stroke="#55c6f0" stroke-width="10.00" stroke-opacity="0.35"/>
<path d="M1480.80,378.94 L1488.30,392.06 L1473.30,392.06 Z" stroke="#55c6f0" stroke-width="10.00" stroke-opacity="0.35"/>
<path d="M1523.65,275.84 L1531.15,288.96 L1516.15,288.96 Z" stroke="#55c6f0" stroke-width="10.00" stroke-opacity="0.35"/>
<path d="M1523.65,296.46 L1531.15,309.58 L1516.15,309.58 Z" stroke="#55c6f0" stroke-width="10.00" stroke-opacity="0.35"/>
<path d="M1523.65,296.46 L1531.15,309.58 L1516.15,309.58 Z" stroke="#55c6f0" stroke-width="10.00" stroke-opacity="0.35"/>
<path d="M1523.65,317.08 L1531.15,330.20 L1516.15,330.20 Z" stroke="#55c6f0" stroke-width="10.00" stroke-opacity="0.35"/>
<path d="M1523.65,317.08 L1531.15,330.20 L1516.15,330.20 Z" stroke="#55c6f0" stroke-width="10.00" stroke-opacity="0.35"/>
<path d="M1523.65,337.70 L1531.15,350.82 L1516.15,350.82 Z" stroke="#55c6f0" stroke-width="10.00" stroke-opacity="0.35"/>
<path d="M1566.50,255.22 L1574.00,268.34 L1559.00,268.34 Z" stroke="#55c6f0" stroke-width="10.00" stroke-opacity="0.35"/>
<path d="M1566.50,255.22 L1574.00,268.34 L1559.00,268.34 Z" stroke="#55c6f0" stroke-width="10.00" stroke-opacity="0.35"/>
<path d="M1566.50,275.84 L1574.00,288.96 L1559.00,288.96 Z" stroke="#55c6f0" stroke-width="10.00" stroke-opacity="0.35"/>
<path d="M1566.50,275.84 L1574.00,288.96 L1559.00,288.96 Z" stroke="#55c6f0" stroke-width="10.00" stroke-opacity="0.35"/>
<path d="M1566.50,296.46 L1574.00,309.58 L1559.00,309.58 Z" stroke="#55c6f0" stroke-width="10.00" stroke-opacity="0.35"/>
<path d="M1566.50,296.46 L1574.00,309.58 L1559.00,309.58 Z" stroke="#55c6f0" stroke-width="10.00" stroke-opacity="0.35"/>
<path d="M1566.50,317.08 L1574.00,330.20 L1559.00,330.20 Z" stroke="#55c6f0" stroke-width="10.00" stroke-opacity="0.35"/>
<path d="M1566.50,317.08 L1574.00,330.20 L1559.00,330.20 Z" stroke="#55c6f0" stroke-width="10.00" stroke-opacity="0.35"/>
<path d="M1566.50,337.70 L1574.00,350.82 L1559.00,350.82 Z" stroke="#55c6f0" stroke-width="10.00" stroke-opacity="0.35"/>
<path d="M1566.50,337.70 L1574.00,350.82 L1559.00,350.82 Z" stroke="#55c6f0" stroke-width="10.00" stroke-opacity="0.35"/>
<path d="M1609.35,193.35 L1616.85,206.48 L1601.85,206.48 Z" stroke="#55c6f0" stroke-width="10.00" stroke-opacity="0.35"/>
<path d="M1609.35,213.97 L1616.85,227.10 L1601.85,227.10 Z" stroke="#55c6f0" stroke-width="10.00" stroke-opacity="0.35"/>
<path d="M1609.35,213.97 L1616.85,227.10 L1601.85,227.10 Z" stroke="#55c6f0" stroke-width="10.00" stroke-opacity="0.35"/>
<path d="M1609.35,213.97 L1616.85,227.10 L1601.85,227.10 Z" stroke="#55c6f0" stroke-width="10.00" stroke-opacity="0.35"/>
<path d="M1609.35,255.22 L1616.85,268.34 L1601.85,268.34 Z" stroke="#55c6f0" stroke-width="10.00" stroke-opacity="0.35"/>
<path d="M1609.35,275.84 L1616.85,288.96 L1601.85,288.96 Z" stroke="#55c6f0" stroke-width="10.00" stroke-opacity="0.35"/>
<path d="M1609.35,275.84 L1616.85,288.96 L1601.85,288.96 Z" stroke="#55c6f0" stroke-width="10.00" stroke-opacity="0.35"/>
<path d="M1609.35,275.84 L1616.85,288.96 L1601.85,288.96 Z" stroke="#55c6f0" stroke-width="10.00" stroke-opacity="0.35"/>
<path d="M1609.35,275.84 L1616.85,288.96 L1601.85,288.96 Z" stroke="#55c6f0" stroke-width="10.00" stroke-opacity="0.35"/>
<path d="M1609.35,296.46 L1616.85,309.58 L1601.85,309.58 Z" stroke="#55c6f0" stroke-width="10.00" stroke-opacity="0.35"/>
<path d="M1609.35,296.46 L1616.85,309.58 L1601.85,309.58 Z" stroke="#55c6f0" stroke-width="10.00" stroke-opacity="0.35"/>
<path d="M1609.35,296.46 L1616.85,309.58 L1601.85,309.58 Z" stroke="#55c6f0" stroke-width="10.00" stroke-opacity="0.35"/>
<path d="M1652.20,152.11 L1659.70,165.24 L1644.70,165.24 Z" stroke="#55c6f0" stroke-width="10.00" stroke-opacity="0.35"/>
<path d="M1652.20,172.73 L1659.70,185.86 L1644.70,185.86 Z" stroke="#55c6f0" stroke-width="10.00" stroke-opacity="0.35"/>
<path d="M1652.20,172.73 L1659.70,185.86 L1644.70,185.86 Z" stroke="#55c6f0" stroke-width="10.00" stroke-opacity="0.35"/>
<path d="M1652.20,193.35 L1659.70,206.48 L1644.70,206.48 Z" stroke="#55c6f0" stroke-width="10.00" stroke-opacity="0.35"/>
<path d="M1652.20,193.35 L1659.70,206.48 L1644.70,206.48 Z" stroke="#55c6f0" stroke-width="10.00" stroke-opacity="0.35"/>
<path d="M1652.20,193.35 L1659.70,206.48 L1644.70,206.48 Z" stroke="#55c6f0" stroke-width="10.00" stroke-opacity="0.35"/>
<path d="M1652.20,213.97 L1659.70,227.10 L1644.70,227.10 Z" stroke="#55c6f0" stroke-width="10.00" stroke-opacity="0.35"/>
<path d="M1652.20,213.97 L1659.70,227.10 L1644.70,227.10 Z" stroke="#55c6f0" stroke-width="10.00" stroke-opacity="0.35"/>
<path d="M1652.20,213.97 L1659.70,227.10 L1644.70,227.10 Z" stroke="#55c6f0" stroke-width="10.00" stroke-opacity="0.35"/>
<path d="M1652.20,213.97 L1659.70,227.10 L1644.70,227.10 Z" stroke="#55c6f0" stroke-width="10.00" stroke-opacity="0.35"/>
<path d="M1652.20,213.97 L1659.70,227.10 L1644.70,227.10 Z" stroke="#55c6f0" stroke-width="10.00" stroke-opacity="0.35"/>
<path d="M1652.20,234.59 L1659.70,247.72 L1644.70,247.72 Z" stroke="#55c6f0" stroke-width="10.00" stroke-opacity="0.35"/>
<path d="M1652.20,234.59 L1659.70,247.72 L1644.70,247.72 Z" stroke="#55c6f0" stroke-width="10.00" stroke-opacity="0.35"/>
<path d="M1652.20,234.59 L1659.70,247.72 L1644.70,247.72 Z" stroke="#55c6f0" stroke-width="10.00" stroke-opacity="0.35"/>
<path d="M1652.20,255.22 L1659.70,268.34 L1644.70,268.34 Z" stroke="#55c6f0" stroke-width="10.00" stroke-opacity="0.35"/>
<path d="M1695.05,213.97 L1702.55,227.10 L1687.55,227.10 Z" stroke="#55c6f0" stroke-width="10.00" stroke-opacity="0.35"/>
<path d="M1737.90,193.35 L1745.40,206.48 L1730.40,206.48 Z" stroke="#55c6f0" stroke-width="10.00" stroke-opacity="0.35"/>
</g>
<g fill="none" stroke-linejoin="round">
<path d="M1309.40,503.78 L1315.40,514.28 L1303.40,514.28 Z" stroke="#6cbfdc" stroke-width="1.40"/>
<path d="M1352.25,462.54 L1358.25,473.04 L1346.25,473.04 Z" stroke="#6cbfdc" stroke-width="1.40"/>
<path d="M1395.10,400.68 L1401.10,411.18 L1389.10,411.18 Z" stroke="#6cbfdc" stroke-width="1.40"/>
<path d="M1395.10,441.92 L1401.10,452.42 L1389.10,452.42 Z" stroke="#6cbfdc" stroke-width="1.40"/>
<path d="M1437.95,421.30 L1443.95,431.80 L1431.95,431.80 Z" stroke="#6cbfdc" stroke-width="1.40"/>
<path d="M1480.80,276.96 L1486.80,287.46 L1474.80,287.46 Z" stroke="#6cbfdc" stroke-width="1.40"/>
<path d="M1480.80,338.82 L1486.80,349.32 L1474.80,349.32 Z" stroke="#6cbfdc" stroke-width="1.40"/>
<path d="M1480.80,359.44 L1486.80,369.94 L1474.80,369.94 Z" stroke="#6cbfdc" stroke-width="1.40"/>
<path d="M1480.80,380.06 L1486.80,390.56 L1474.80,390.56 Z" stroke="#6cbfdc" stroke-width="1.40"/>
<path d="M1523.65,276.96 L1529.65,287.46 L1517.65,287.46 Z" stroke="#6cbfdc" stroke-width="1.40"/>
<path d="M1523.65,297.58 L1529.65,308.08 L1517.65,308.08 Z" stroke="#6cbfdc" stroke-width="1.40"/>
<path d="M1523.65,318.20 L1529.65,328.70 L1517.65,328.70 Z" stroke="#6cbfdc" stroke-width="1.40"/>
<path d="M1523.65,338.82 L1529.65,349.32 L1517.65,349.32 Z" stroke="#6cbfdc" stroke-width="1.40"/>
<path d="M1566.50,256.34 L1572.50,266.84 L1560.50,266.84 Z" stroke="#6cbfdc" stroke-width="1.40"/>
<path d="M1566.50,276.96 L1572.50,287.46 L1560.50,287.46 Z" stroke="#6cbfdc" stroke-width="1.40"/>
<path d="M1566.50,297.58 L1572.50,308.08 L1560.50,308.08 Z" stroke="#6cbfdc" stroke-width="1.40"/>
<path d="M1566.50,318.20 L1572.50,328.70 L1560.50,328.70 Z" stroke="#6cbfdc" stroke-width="1.40"/>
<path d="M1566.50,338.82 L1572.50,349.32 L1560.50,349.32 Z" stroke="#6cbfdc" stroke-width="1.40"/>
<path d="M1609.35,194.48 L1615.35,204.98 L1603.35,204.98 Z" stroke="#6cbfdc" stroke-width="1.40"/>
<path d="M1609.35,215.10 L1615.35,225.60 L1603.35,225.60 Z" stroke="#6cbfdc" stroke-width="1.40"/>
<path d="M1609.35,256.34 L1615.35,266.84 L1603.35,266.84 Z" stroke="#6cbfdc" stroke-width="1.40"/>
<path d="M1609.35,276.96 L1615.35,287.46 L1603.35,287.46 Z" stroke="#6cbfdc" stroke-width="1.40"/>
<path d="M1609.35,297.58 L1615.35,308.08 L1603.35,308.08 Z" stroke="#6cbfdc" stroke-width="1.40"/>
<path d="M1652.20,153.24 L1658.20,163.74 L1646.20,163.74 Z" stroke="#6cbfdc" stroke-width="1.40"/>
<path d="M1652.20,173.86 L1658.20,184.36 L1646.20,184.36 Z" stroke="#6cbfdc" stroke-width="1.40"/>
<path d="M1652.20,194.48 L1658.20,204.98 L1646.20,204.98 Z" stroke="#6cbfdc" stroke-width="1.40"/>
<path d="M1652.20,215.10 L1658.20,225.60 L1646.20,225.60 Z" stroke="#6cbfdc" stroke-width="1.40"/>
<path d="M1652.20,235.72 L1658.20,246.22 L1646.20,246.22 Z" stroke="#6cbfdc" stroke-width="1.40"/>
<path d="M1652.20,256.34 L1658.20,266.84 L1646.20,266.84 Z" stroke="#6cbfdc" stroke-width="1.40"/>
<path d="M1695.05,215.10 L1701.05,225.60 L1689.05,225.60 Z" stroke="#6cbfdc" stroke-width="1.40"/>
<path d="M1737.90,194.48 L1743.90,204.98 L1731.90,204.98 Z" stroke="#6cbfdc" stroke-width="1.40"/>
</g>
<g fill="none" stroke-linejoin="round">
<path d="M1181.45,502.58 L1187.05,508.18 L1181.45,513.78 L1175.85,508.18 Z" stroke="#161616" stroke-width="2.30"/>
<path d="M1224.30,461.34 L1229.90,466.94 L1224.30,472.54 L1218.70,466.94 Z" stroke="#161616" stroke-width="2.30"/>
<path d="M1224.30,564.44 L1229.90,570.04 L1224.30,575.64 L1218.70,570.04 Z" stroke="#161616" stroke-width="2.30"/>
<path d="M1267.15,420.10 L1272.75,425.70 L1267.15,431.30 L1261.55,425.70 Z" stroke="#161616" stroke-width="2.30"/>
<path d="M1267.15,461.34 L1272.75,466.94 L1267.15,472.54 L1261.55,466.94 Z" stroke="#161616" stroke-width="2.30"/>
<path d="M1267.15,481.96 L1272.75,487.56 L1267.15,493.16 L1261.55,487.56 Z" stroke="#161616" stroke-width="2.30"/>
<path d="M1267.15,502.58 L1272.75,508.18 L1267.15,513.78 L1261.55,508.18 Z" stroke="#161616" stroke-width="2.30"/>
<path d="M1267.15,543.82 L1272.75,549.42 L1267.15,555.02 L1261.55,549.42 Z" stroke="#161616" stroke-width="2.30"/>
<path d="M1352.85,378.86 L1358.45,384.46 L1352.85,390.06 L1347.25,384.46 Z" stroke="#161616" stroke-width="2.30"/>
<path d="M1352.85,420.10 L1358.45,425.70 L1352.85,431.30 L1347.25,425.70 Z" stroke="#161616" stroke-width="2.30"/>
<path d="M1395.70,358.24 L1401.30,363.84 L1395.70,369.44 L1390.10,363.84 Z" stroke="#161616" stroke-width="2.30"/>
<path d="M1395.70,378.86 L1401.30,384.46 L1395.70,390.06 L1390.10,384.46 Z" stroke="#161616" stroke-width="2.30"/>
<path d="M1395.70,420.10 L1401.30,425.70 L1395.70,431.30 L1390.10,425.70 Z" stroke="#161616" stroke-width="2.30"/>
<path d="M1395.70,440.72 L1401.30,446.32 L1395.70,451.92 L1390.10,446.32 Z" stroke="#161616" stroke-width="2.30"/>
<path d="M1438.55,358.24 L1444.15,363.84 L1438.55,369.44 L1432.95,363.84 Z" stroke="#161616" stroke-width="2.30"/>
<path d="M1438.55,378.86 L1444.15,384.46 L1438.55,390.06 L1432.95,384.46 Z" stroke="#161616" stroke-width="2.30"/>
<path d="M1438.55,399.48 L1444.15,405.08 L1438.55,410.68 L1432.95,405.08 Z" stroke="#161616" stroke-width="2.30"/>
<path d="M1438.55,440.72 L1444.15,446.32 L1438.55,451.92 L1432.95,446.32 Z" stroke="#161616" stroke-width="2.30"/>
<path d="M1438.55,481.96 L1444.15,487.56 L1438.55,493.16 L1432.95,487.56 Z" stroke="#161616" stroke-width="2.30"/>
<path d="M1438.55,564.44 L1444.15,570.04 L1438.55,575.64 L1432.95,570.04 Z" stroke="#161616" stroke-width="2.30"/>
<path d="M1481.40,48.94 L1487.00,54.54 L1481.40,60.14 L1475.80,54.54 Z" stroke="#161616" stroke-width="2.30"/>
<path d="M1481.40,358.24 L1487.00,363.84 L1481.40,369.44 L1475.80,363.84 Z" stroke="#161616" stroke-width="2.30"/>
<path d="M1481.40,378.86 L1487.00,384.46 L1481.40,390.06 L1475.80,384.46 Z" stroke="#161616" stroke-width="2.30"/>
<path d="M1481.40,399.48 L1487.00,405.08 L1481.40,410.68 L1475.80,405.08 Z" stroke="#161616" stroke-width="2.30"/>
<path d="M1481.40,420.10 L1487.00,425.70 L1481.40,431.30 L1475.80,425.70 Z" stroke="#161616" stroke-width="2.30"/>
<path d="M1524.25,337.62 L1529.85,343.22 L1524.25,348.82 L1518.65,343.22 Z" stroke="#161616" stroke-width="2.30"/>
<path d="M1524.25,358.24 L1529.85,363.84 L1524.25,369.44 L1518.65,363.84 Z" stroke="#161616" stroke-width="2.30"/>
<path d="M1524.25,378.86 L1529.85,384.46 L1524.25,390.06 L1518.65,384.46 Z" stroke="#161616" stroke-width="2.30"/>
<path d="M1524.25,399.48 L1529.85,405.08 L1524.25,410.68 L1518.65,405.08 Z" stroke="#161616" stroke-width="2.30"/>
<path d="M1567.10,317.00 L1572.70,322.60 L1567.10,328.20 L1561.50,322.60 Z" stroke="#161616" stroke-width="2.30"/>
<path d="M1567.10,337.62 L1572.70,343.22 L1567.10,348.82 L1561.50,343.22 Z" stroke="#161616" stroke-width="2.30"/>
<path d="M1567.10,378.86 L1572.70,384.46 L1567.10,390.06 L1561.50,384.46 Z" stroke="#161616" stroke-width="2.30"/>
<path d="M1609.95,69.56 L1615.55,75.16 L1609.95,80.76 L1604.35,75.16 Z" stroke="#161616" stroke-width="2.30"/>
<path d="M1609.95,296.38 L1615.55,301.98 L1609.95,307.58 L1604.35,301.98 Z" stroke="#161616" stroke-width="2.30"/>
<path d="M1609.95,317.00 L1615.55,322.60 L1609.95,328.20 L1604.35,322.60 Z" stroke="#161616" stroke-width="2.30"/>
<path d="M1609.95,337.62 L1615.55,343.22 L1609.95,348.82 L1604.35,343.22 Z" stroke="#161616" stroke-width="2.30"/>
</g>
<g stroke-width="3.4" stroke-linecap="round" fill="none">
<path d="M1095.3,575 L1524.4,332.1" stroke="#b5458a"/>
<path d="M1437.8,298.5 L1652.4,201.1" stroke="#c4b63c"/>
<path d="M1181.1,542.1 L1610,293.8" stroke="#505050"/>
<path d="M1309.7,495.1 L1738.8,154.3" stroke="#5ec3e6"/>
</g>
<g stroke="#000" stroke-width="2.2" fill="none">
<path d="M1052.8,12.7 H1781 V631.5 M1052.8,11.6 V631.5 M1049,631.5 H1782"/>
<path d="M1048.8,631.60 H1052.8"/>
<path d="M1048.8,528.50 H1052.8"/>
<path d="M1048.8,425.40 H1052.8"/>
<path d="M1048.8,322.30 H1052.8"/>
<path d="M1048.8,219.20 H1052.8"/>
<path d="M1048.8,116.10 H1052.8"/>
<path d="M1048.8,13.00 H1052.8"/>
<path d="M1053.40,631.5 V635.6"/>
<path d="M1096.25,631.5 V635.6"/>
<path d="M1139.10,631.5 V635.6"/>
<path d="M1181.95,631.5 V635.6"/>
<path d="M1224.80,631.5 V635.6"/>
<path d="M1267.65,631.5 V635.6"/>
<path d="M1310.50,631.5 V635.6"/>
<path d="M1353.35,631.5 V635.6"/>
<path d="M1396.20,631.5 V635.6"/>
<path d="M1439.05,631.5 V635.6"/>
<path d="M1481.90,631.5 V635.6"/>
<path d="M1524.75,631.5 V635.6"/>
<path d="M1567.60,631.5 V635.6"/>
<path d="M1610.45,631.5 V635.6"/>
<path d="M1653.30,631.5 V635.6"/>
<path d="M1696.15,631.5 V635.6"/>
<path d="M1739.00,631.5 V635.6"/>
<path d="M1781.85,631.5 V635.6"/>
</g>
<text transform="translate(-36.029,0) scale(1.03571,1)" x="1035.00" y="640.60" font-size="32.50" text-anchor="end">2600</text>
<text transform="translate(-36.029,0) scale(1.03571,1)" x="1035.00" y="537.50" font-size="32.50" text-anchor="end">2605</text>
<text transform="translate(-36.029,0) scale(1.03571,1)" x="1035.00" y="434.40" font-size="32.50" text-anchor="end">2610</text>
<text transform="translate(-36.029,0) scale(1.03571,1)" x="1035.00" y="331.30" font-size="32.50" text-anchor="end">2615</text>
<text transform="translate(-36.029,0) scale(1.03571,1)" x="1035.00" y="228.20" font-size="32.50" text-anchor="end">2620</text>
<text transform="translate(-36.029,0) scale(1.03571,1)" x="1035.00" y="125.10" font-size="32.50" text-anchor="end">2625</text>
<text transform="translate(-27.728,0) scale(1.02794,1)" x="1054.90" y="675.80" font-size="32.50" text-anchor="middle">1577</text>
<text transform="translate(66.468,0) scale(0.94412,1)" x="1226.30" y="675.80" font-size="32.50" text-anchor="middle">1581</text>
<text x="1397.70" y="675.80" font-size="32.50" text-anchor="middle">1585</text>
<text x="1569.10" y="675.80" font-size="32.50" text-anchor="middle">1589</text>
<text x="1740.50" y="675.80" font-size="32.50" text-anchor="middle">1593</text>
<text transform="translate(-50.157,0) scale(1.03742,1)" x="1430.00" y="728.50" font-size="32.50" text-anchor="middle">G Raman shift (cm<tspan font-size="21" dy="-12.5">−1</tspan><tspan dy="12.5">)</tspan></text>
<text transform="translate(929.50,322.10) rotate(-90) scale(1.02671,1)" font-size="33.00" text-anchor="middle">2D Raman shift (cm<tspan font-size="21" dy="-12.5">−1</tspan><tspan dy="12.5">)</tspan></text>
<g fill="none" stroke-linejoin="round"><path d="M1107.30,77.08 L1112.62,82.40 L1107.30,87.72 L1101.98,82.40 Z" stroke="#161616" stroke-width="2.20"/></g>
<text transform="translate(-65.025,0) scale(1.05755,1)" x="1121.50" y="92.90" font-size="32.50">SWNTs</text>
<g fill="none" stroke-linejoin="round"><rect x="1102.17" y="112.87" width="10.26" height="10.26" stroke="#bb5793" stroke-width="2.00"/></g>
<text transform="translate(-49.449,0) scale(1.04275,1)" x="1121.50" y="128.50" font-size="32.50">MINT-pyr</text>
<g fill="none" stroke-linejoin="round"><circle cx="1107.30" cy="153.60" r="5.03" stroke="#c9bf62" stroke-width="2.00"/></g>
<text transform="translate(-39.076,0) scale(1.03352,1)" x="1121.50" y="164.10" font-size="32.50">MINT-exTTF</text>
<g fill="none" stroke-linejoin="round"><path d="M1107.30,184.19 L1113.00,194.16 L1101.60,194.16 Z" stroke="#6cbfdc" stroke-width="2.00"/></g>
<text transform="translate(-58.029,0) scale(1.05038,1)" x="1121.50" y="199.70" font-size="32.50">MINT-AQ</text>
</svg></body></html>
